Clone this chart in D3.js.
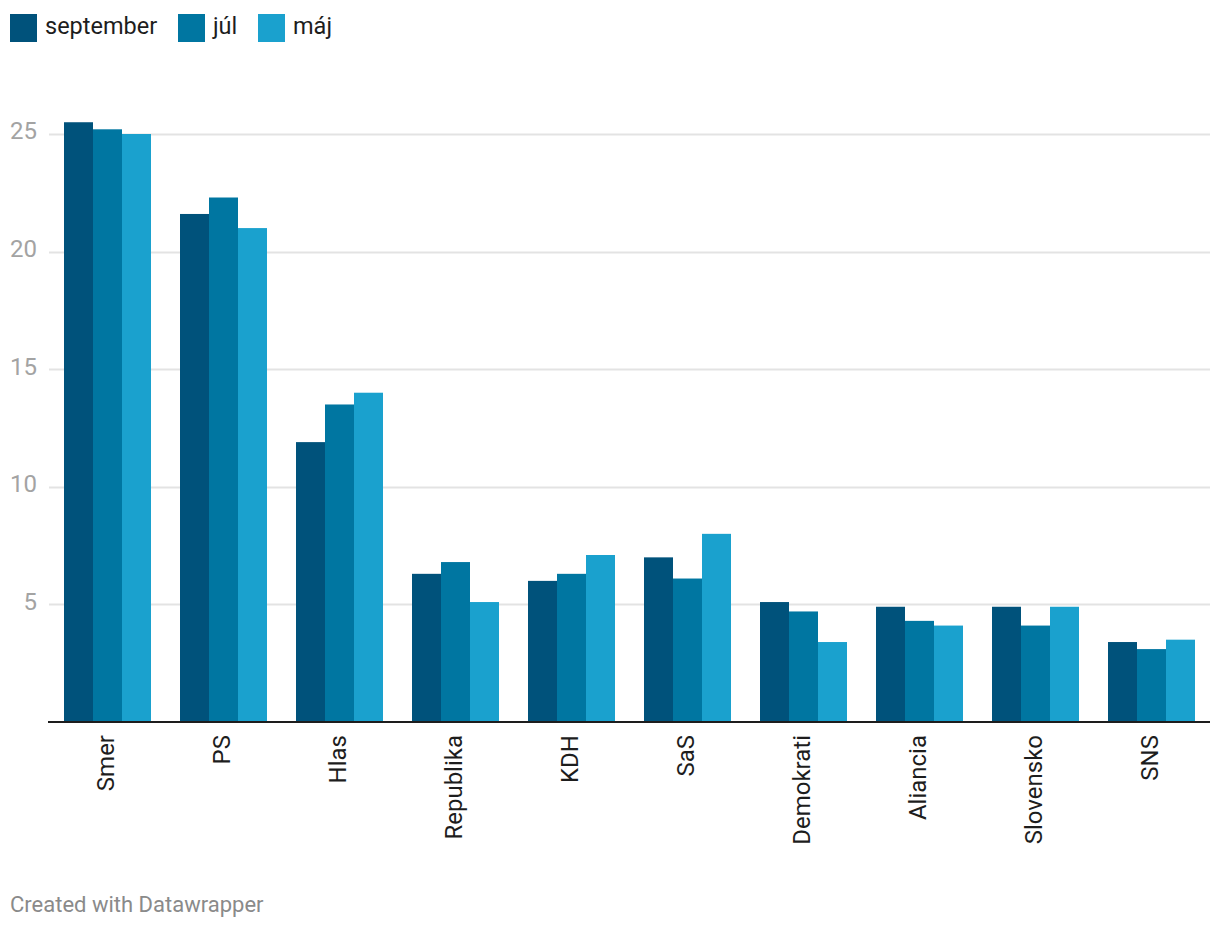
<!DOCTYPE html>
<html>
<head>
<meta charset="utf-8">
<script src="https://cdn.jsdelivr.net/npm/d3@7"></script>
<style>
  html, body { margin: 0; padding: 0; background: #fff; }
  svg { display: block; font-family: Roboto, "Noto Sans", sans-serif; }
</style>
</head>
<body>
<svg id="chart" width="1220" height="930"></svg>
<script>
const categories = ["Smer", "PS", "Hlas", "Republika", "KDH", "SaS", "Demokrati", "Aliancia", "Slovensko", "SNS"];
const seriesNames = ["september", "júl", "máj"];
const september = [25.5, 21.6, 11.9, 6.3, 6.0, 7.0, 5.1, 4.9, 4.9, 3.4];
const jul = [25.2, 22.3, 13.5, 6.8, 6.3, 6.1, 4.7, 4.3, 4.1, 3.1];
const maj = [25.0, 21.0, 14.0, 5.1, 7.1, 8.0, 3.4, 4.1, 4.9, 3.5];
const yTicks = [5, 10, 15, 20, 25];
const colors = ["#00527b", "#0076a1", "#1aa1ce"];

const seriesValues = [september, jul, maj];
const svg = d3.select("#chart");

const x = d3.scaleBand().domain(categories).range([64, 1195]).paddingInner(0.25).paddingOuter(0);
const xs = d3.scaleBand().domain(seriesNames).range([0, x.bandwidth()]).padding(0);
const y = d3.scaleLinear().domain([0, 25]).range([722, 134]);

// gridlines
svg.append("g").selectAll("line").data(yTicks).join("line")
  .attr("x1", 49).attr("x2", 1210)
  .attr("y1", d => Math.round(y(d)) + 0.5).attr("y2", d => Math.round(y(d)) + 0.5)
  .attr("stroke", "#e3e3e3").attr("stroke-width", 2);

// y labels
svg.append("g").selectAll("text").data(yTicks).join("text")
  .attr("x", 37).attr("y", d => y(d) - 1)
  .attr("text-anchor", "end").attr("dominant-baseline", "middle")
  .attr("fill", "#a3a3a3").attr("font-size", 24)
  .text(d => d);

// bars
const groups = svg.append("g").selectAll("g").data(categories).join("g")
  .attr("transform", d => `translate(${x(d)},0)`);
groups.selectAll("rect")
  .data((c, i) => seriesNames.map((s, j) => ({ s, v: seriesValues[j][i], j })))
  .join("rect")
  .attr("x", d => xs(d.s))
  .attr("width", xs.bandwidth())
  .attr("y", d => y(d.v))
  .attr("height", d => y(0) - y(d.v))
  .attr("fill", d => colors[d.j]);

// baseline
svg.append("line").attr("x1", 48).attr("x2", 1210).attr("y1", 722).attr("y2", 722)
  .attr("stroke", "#1d1d1d").attr("stroke-width", 2);

// x labels
svg.append("g").selectAll("text").data(categories).join("text")
  .attr("transform", d => `translate(${x(d) + x.bandwidth() / 2},735) rotate(-90)`)
  .attr("text-anchor", "end").attr("dominant-baseline", "middle")
  .attr("fill", "#1d1d1d").attr("font-size", 24)
  .text(d => d);

// legend
const legendX = [10, 178, 258];
const lg = svg.append("g").selectAll("g").data(seriesNames).join("g")
  .attr("transform", (d, i) => `translate(${legendX[i]},14)`);
lg.append("rect").attr("width", 27).attr("height", 28).attr("fill", (d, i) => colors[i]);
lg.append("text").attr("x", 35).attr("y", 14).attr("dominant-baseline", "middle")
  .attr("fill", "#1d1d1d").attr("font-size", 23.5).text(d => d);

// footer
svg.append("text").attr("x", 10).attr("y", 912)
  .attr("fill", "#8a8a8a").attr("font-size", 22).text("Created with Datawrapper");
</script>
</body>
</html>
